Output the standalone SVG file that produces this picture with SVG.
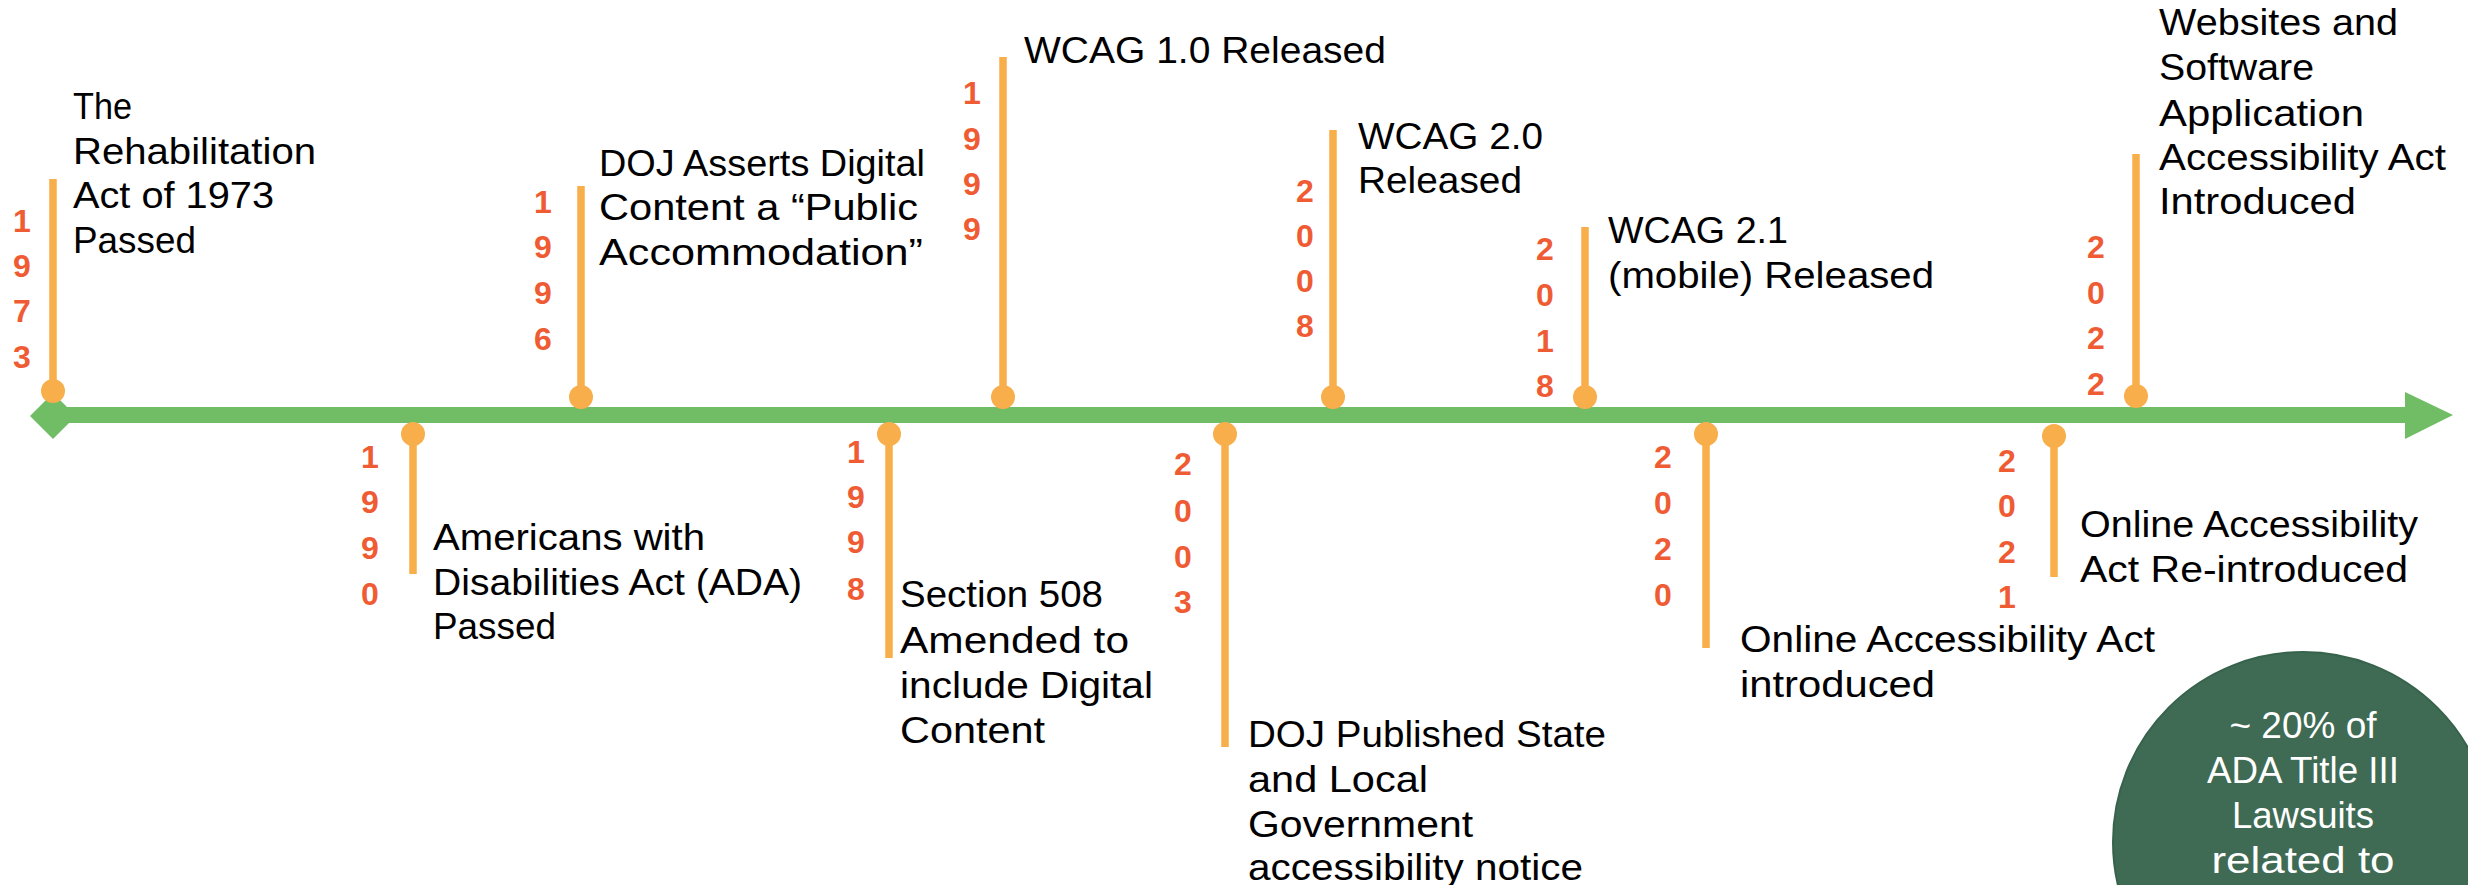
<svg xmlns="http://www.w3.org/2000/svg" width="2468" height="885" viewBox="0 0 2468 885">
<style>
.lbl { font-family: "Liberation Sans", Arial, sans-serif; font-size: 37px; fill: #000; }
.yr { font-family: "Liberation Sans", Arial, sans-serif; font-size: 32px; font-weight: bold; fill: #EF5B33; text-anchor: middle; }
.stem { stroke: #F8AE4A; stroke-width: 7.5; fill: none; }
.dot { fill: #F8AE4A; }
.ctext { font-family: "Liberation Sans", Arial, sans-serif; font-size: 37px; fill: #fff; text-anchor: middle; }
</style>
<rect width="2468" height="885" fill="#fff"/>
<g id="timeline">
  <rect x="53" y="407" width="2354" height="16" fill="#71BD66"/>
  <polygon points="2405,392 2453,415 2405,439" fill="#71BD66"/>
  <polygon points="30,416 53,393 76,416 53,439" fill="#71BD66"/>
</g>
<g id="connectors">
  <line class="stem" x1="53" y1="179" x2="53" y2="391"/><circle class="dot" cx="53" cy="391" r="12"/>
  <line class="stem" x1="413" y1="434" x2="413" y2="574"/><circle class="dot" cx="413" cy="434" r="12"/>
  <line class="stem" x1="581" y1="186" x2="581" y2="397"/><circle class="dot" cx="581" cy="397" r="12"/>
  <line class="stem" x1="889" y1="434" x2="889" y2="658"/><circle class="dot" cx="889" cy="434" r="12"/>
  <line class="stem" x1="1003" y1="57" x2="1003" y2="397"/><circle class="dot" cx="1003" cy="397" r="12"/>
  <line class="stem" x1="1225" y1="434" x2="1225" y2="747"/><circle class="dot" cx="1225" cy="434" r="12"/>
  <line class="stem" x1="1333" y1="130" x2="1333" y2="397"/><circle class="dot" cx="1333" cy="397" r="12"/>
  <line class="stem" x1="1585" y1="227" x2="1585" y2="397"/><circle class="dot" cx="1585" cy="397" r="12"/>
  <line class="stem" x1="1706" y1="434" x2="1706" y2="648"/><circle class="dot" cx="1706" cy="434" r="12"/>
  <line class="stem" x1="2054" y1="436" x2="2054" y2="577"/><circle class="dot" cx="2054" cy="436" r="12"/>
  <line class="stem" x1="2136" y1="154" x2="2136" y2="396"/><circle class="dot" cx="2136" cy="396" r="12"/>
</g>
<g id="event-1973">
  <text class="yr"><tspan x="22" y="232">1</tspan><tspan x="22" y="277">9</tspan><tspan x="22" y="322">7</tspan><tspan x="22" y="368">3</tspan></text>
  <text class="lbl" x="73" y="119" textLength="59" lengthAdjust="spacingAndGlyphs">The</text>
  <text class="lbl" x="73" y="164" textLength="243" lengthAdjust="spacingAndGlyphs">Rehabilitation</text>
  <text class="lbl" x="73" y="208" textLength="201" lengthAdjust="spacingAndGlyphs">Act of 1973</text>
  <text class="lbl" x="73" y="253" textLength="123" lengthAdjust="spacingAndGlyphs">Passed</text>
</g>
<g id="event-1990">
  <text class="yr"><tspan x="370" y="468">1</tspan><tspan x="370" y="513">9</tspan><tspan x="370" y="559">9</tspan><tspan x="370" y="605">0</tspan></text>
  <text class="lbl" x="433" y="550" textLength="272" lengthAdjust="spacingAndGlyphs">Americans with</text>
  <text class="lbl" x="433" y="595" textLength="369" lengthAdjust="spacingAndGlyphs">Disabilities Act (ADA)</text>
  <text class="lbl" x="433" y="639" textLength="123" lengthAdjust="spacingAndGlyphs">Passed</text>
</g>
<g id="event-1996">
  <text class="yr"><tspan x="543" y="213">1</tspan><tspan x="543" y="258">9</tspan><tspan x="543" y="304">9</tspan><tspan x="543" y="350">6</tspan></text>
  <text class="lbl" x="599" y="176" textLength="326" lengthAdjust="spacingAndGlyphs">DOJ Asserts Digital</text>
  <text class="lbl" x="599" y="220" textLength="319" lengthAdjust="spacingAndGlyphs">Content a “Public</text>
  <text class="lbl" x="599" y="265" textLength="324" lengthAdjust="spacingAndGlyphs">Accommodation”</text>
</g>
<g id="event-1998">
  <text class="yr"><tspan x="856" y="463">1</tspan><tspan x="856" y="508">9</tspan><tspan x="856" y="553">9</tspan><tspan x="856" y="600">8</tspan></text>
  <text class="lbl" x="900" y="607" textLength="203" lengthAdjust="spacingAndGlyphs">Section 508</text>
  <text class="lbl" x="900" y="653" textLength="229" lengthAdjust="spacingAndGlyphs">Amended to</text>
  <text class="lbl" x="900" y="698" textLength="253" lengthAdjust="spacingAndGlyphs">include Digital</text>
  <text class="lbl" x="900" y="743" textLength="145" lengthAdjust="spacingAndGlyphs">Content</text>
</g>
<g id="event-1999">
  <text class="yr"><tspan x="972" y="104">1</tspan><tspan x="972" y="150">9</tspan><tspan x="972" y="195">9</tspan><tspan x="972" y="240">9</tspan></text>
  <text class="lbl" x="1024" y="63" textLength="362" lengthAdjust="spacingAndGlyphs">WCAG 1.0 Released</text>
</g>
<g id="event-2003">
  <text class="yr"><tspan x="1183" y="475">2</tspan><tspan x="1183" y="522">0</tspan><tspan x="1183" y="568">0</tspan><tspan x="1183" y="613">3</tspan></text>
  <text class="lbl" x="1248" y="747" textLength="358" lengthAdjust="spacingAndGlyphs">DOJ Published State</text>
  <text class="lbl" x="1248" y="792" textLength="180" lengthAdjust="spacingAndGlyphs">and Local</text>
  <text class="lbl" x="1248" y="837" textLength="225" lengthAdjust="spacingAndGlyphs">Government</text>
  <text class="lbl" x="1248" y="880" textLength="335" lengthAdjust="spacingAndGlyphs">accessibility notice</text>
</g>
<g id="event-2008">
  <text class="yr"><tspan x="1305" y="202">2</tspan><tspan x="1305" y="247">0</tspan><tspan x="1305" y="292">0</tspan><tspan x="1305" y="337">8</tspan></text>
  <text class="lbl" x="1358" y="149" textLength="185" lengthAdjust="spacingAndGlyphs">WCAG 2.0</text>
  <text class="lbl" x="1358" y="193" textLength="164" lengthAdjust="spacingAndGlyphs">Released</text>
</g>
<g id="event-2018">
  <text class="yr"><tspan x="1545" y="260">2</tspan><tspan x="1545" y="306">0</tspan><tspan x="1545" y="352">1</tspan><tspan x="1545" y="397">8</tspan></text>
  <text class="lbl" x="1608" y="243" textLength="180" lengthAdjust="spacingAndGlyphs">WCAG 2.1</text>
  <text class="lbl" x="1608" y="288" textLength="326" lengthAdjust="spacingAndGlyphs">(mobile) Released</text>
</g>
<g id="event-2020">
  <text class="yr"><tspan x="1663" y="468">2</tspan><tspan x="1663" y="514">0</tspan><tspan x="1663" y="560">2</tspan><tspan x="1663" y="606">0</tspan></text>
  <text class="lbl" x="1740" y="652" textLength="415" lengthAdjust="spacingAndGlyphs">Online Accessibility Act</text>
  <text class="lbl" x="1740" y="697" textLength="195" lengthAdjust="spacingAndGlyphs">introduced</text>
</g>
<g id="event-2021">
  <text class="yr"><tspan x="2007" y="472">2</tspan><tspan x="2007" y="517">0</tspan><tspan x="2007" y="563">2</tspan><tspan x="2007" y="608">1</tspan></text>
  <text class="lbl" x="2080" y="537" textLength="338" lengthAdjust="spacingAndGlyphs">Online Accessibility</text>
  <text class="lbl" x="2080" y="582" textLength="328" lengthAdjust="spacingAndGlyphs">Act Re-introduced</text>
</g>
<g id="event-2022">
  <text class="yr"><tspan x="2096" y="258">2</tspan><tspan x="2096" y="304">0</tspan><tspan x="2096" y="349">2</tspan><tspan x="2096" y="395">2</tspan></text>
  <text class="lbl" x="2159" y="35" textLength="239" lengthAdjust="spacingAndGlyphs">Websites and</text>
  <text class="lbl" x="2159" y="80" textLength="155" lengthAdjust="spacingAndGlyphs">Software</text>
  <text class="lbl" x="2159" y="126" textLength="205" lengthAdjust="spacingAndGlyphs">Application</text>
  <text class="lbl" x="2159" y="170" textLength="287" lengthAdjust="spacingAndGlyphs">Accessibility Act</text>
  <text class="lbl" x="2159" y="214" textLength="197" lengthAdjust="spacingAndGlyphs">Introduced</text>
</g>
<g id="stat-circle">
  <circle cx="2303" cy="842" r="190" fill="#3F6B55" stroke="#37624C" stroke-width="2"/>
  <text class="ctext" x="2303" y="738" textLength="147" lengthAdjust="spacingAndGlyphs">~ 20% of</text>
  <text class="ctext" x="2303" y="783" textLength="192" lengthAdjust="spacingAndGlyphs">ADA Title III</text>
  <text class="ctext" x="2303" y="828" textLength="142" lengthAdjust="spacingAndGlyphs">Lawsuits</text>
  <text class="ctext" x="2303" y="873" textLength="183" lengthAdjust="spacingAndGlyphs">related to</text>
</g>
</svg>
